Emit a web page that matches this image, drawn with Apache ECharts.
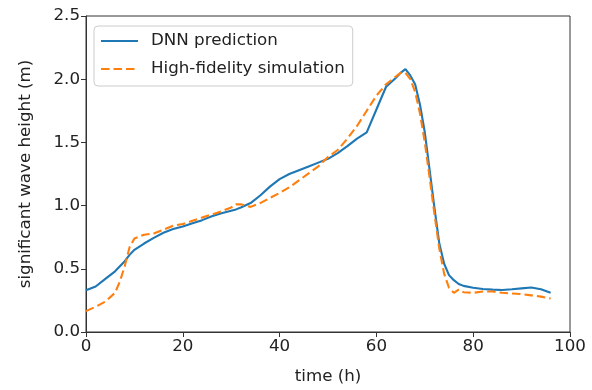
<!DOCTYPE html>
<html>
<head>
<meta charset="utf-8">
<script src="https://cdn.jsdelivr.net/npm/echarts@6/dist/echarts.min.js"></script>
<style>
html,body{margin:0;padding:0;background:#fff;}
#chart{width:592px;height:390px;}
</style>
</head>
<body>
<div id="chart"></div>
<script>
// time (h)
const hours = [0,2,4,6,7,8,9,10,12,14,16,18,20,22,24,26,28,30,31,32,34,36,38,40,42,44,46,48,50,52,54,56,58,60,62,64,65,66,67,68,69,70,71,72,73,74,75,76,77,78,80,82,84,86,88,90,92,94,96];
// DNN prediction (m)
const dnnPrediction = [0.33,0.36,0.42,0.48,0.52,0.56,0.61,0.65,0.70,0.745,0.785,0.815,0.835,0.86,0.885,0.915,0.94,0.96,0.97,0.985,1.02,1.08,1.15,1.21,1.25,1.28,1.31,1.34,1.37,1.415,1.47,1.53,1.58,1.76,1.94,2.01,2.05,2.08,2.03,1.96,1.80,1.58,1.28,0.98,0.70,0.54,0.45,0.41,0.38,0.365,0.35,0.34,0.335,0.332,0.338,0.345,0.352,0.338,0.31];
// High-fidelity simulation (m)
const hiFiSimulation = [0.165,0.20,0.24,0.31,0.40,0.52,0.67,0.74,0.77,0.78,0.81,0.84,0.855,0.88,0.905,0.93,0.955,0.985,1.01,1.01,0.99,1.02,1.06,1.10,1.145,1.20,1.255,1.31,1.385,1.44,1.53,1.63,1.75,1.87,1.96,2.02,2.05,2.05,2.00,1.90,1.73,1.50,1.22,0.93,0.66,0.46,0.35,0.31,0.335,0.315,0.31,0.32,0.32,0.31,0.305,0.30,0.29,0.28,0.265];
const xTicks = [0,20,40,60,80,100];
const yTicks = [0.0,0.5,1.0,1.5,2.0,2.5];
const seriesNames = ['DNN prediction','High-fidelity simulation'];

const font = 'DejaVu Sans';
const fs = 16.7;
const chart = echarts.init(document.getElementById('chart'), null, {renderer:'canvas'});
const pair = arr => hours.map((t,i)=>[t,arr[i]]);
chart.setOption({
  animation:false,
  backgroundColor:'#fff',
  grid:{left:86,right:22,top:16,bottom:58,show:true,borderColor:'#333',borderWidth:1,backgroundColor:'transparent'},
  legend:{
    orient:'vertical',left:94,top:26,
    data:seriesNames,
    itemWidth:37,itemHeight:20,itemGap:8,
    padding:[5,8,7,6],
    borderColor:'#cccccc',borderWidth:1,borderRadius:4,
    backgroundColor:'rgba(255,255,255,0.8)',
    itemStyle:{opacity:0},
    textStyle:{fontFamily:font,fontSize:fs,color:'#222',lineHeight:20,padding:[0,0,0,8]}
  },
  xAxis:{
    type:'value',min:xTicks[0],max:xTicks[xTicks.length-1],interval:20,
    name:'time (h)',nameLocation:'middle',nameGap:36,
    nameTextStyle:{fontFamily:font,fontSize:fs,color:'#222'},
    axisLine:{show:true,lineStyle:{color:'#333',width:1}},
    axisTick:{show:true,inside:false,length:5,lineStyle:{color:'#333',width:1}},
    axisLabel:{fontFamily:font,fontSize:fs,color:'#222',margin:6},
    splitLine:{show:false}
  },
  yAxis:{
    type:'value',min:yTicks[0],max:yTicks[yTicks.length-1],interval:0.5,
    name:'significant wave height (m)',nameLocation:'middle',nameGap:52,
    nameTextStyle:{fontFamily:font,fontSize:fs,color:'#222'},
    axisLine:{show:true,lineStyle:{color:'#333',width:1}},
    axisTick:{show:true,inside:false,length:5,lineStyle:{color:'#333',width:1}},
    axisLabel:{fontFamily:font,fontSize:fs,color:'#222',margin:6,formatter:v=>v.toFixed(1)},
    splitLine:{show:false}
  },
  series:[
    {name:seriesNames[0],type:'line',data:pair(dnnPrediction),symbol:'none',showSymbol:false,
     lineStyle:{color:'#1f77b4',width:2.1},itemStyle:{color:'#1f77b4'}},
    {name:seriesNames[1],type:'line',data:pair(hiFiSimulation),symbol:'none',showSymbol:false,
     lineStyle:{color:'#ff7f0e',width:2.1,type:[8.5,4]},itemStyle:{color:'#ff7f0e'}}
  ]
});
</script>
</body>
</html>
